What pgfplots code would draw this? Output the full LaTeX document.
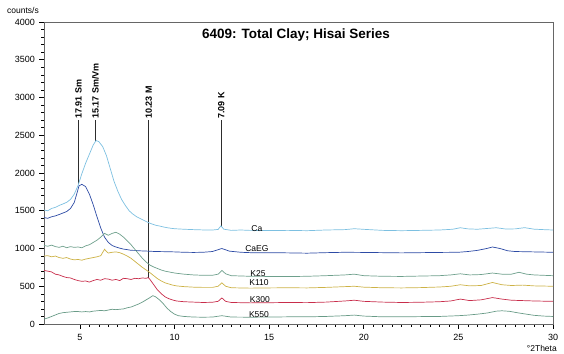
\documentclass[border=0pt]{standalone}
\usepackage{fontspec}
\setmainfont{Liberation Sans}
\usepackage{pgfplots}
\pgfplotsset{compat=1.18}

\definecolor{caCol}{RGB}{125,192,225}
\definecolor{caegCol}{RGB}{45,75,165}
\definecolor{ktwfCol}{RGB}{110,160,140}
\definecolor{konetenCol}{RGB}{205,178,70}
\definecolor{kthreeCol}{RGB}{200,45,75}
\definecolor{kfiveCol}{RGB}{105,155,135}
\definecolor{markCol}{RGB}{45,45,45}

\begin{document}
\begin{tikzpicture}
\begin{axis}[
  at={(0,0)}, anchor=south west,
  scale only axis, width=509pt, height=302pt,
  xmin=3.1, xmax=30, ymin=0, ymax=4000,
  xtick={5,10,...,30}, ytick={0,500,...,4000},
  minor x tick num=9, minor y tick num=4,
  tick align=outside, tick pos=left,
  major tick length=4.5pt, minor tick length=2.5pt,
  tick style={black, line width=0.6pt},
  axis line style={black!60, line width=0.8pt},
  ticklabel style={font=\fontsize{9}{10}\selectfont},
  /pgf/number format/assume math mode=true,
  /pgf/number format/1000 sep={},
  xticklabel style={yshift=-2pt},
  yticklabel style={xshift=-1pt},
  clip=false,
  every axis plot/.append style={line width=0.7pt},
]

% reference lines for the d-spacings
\addplot[markCol, line width=1pt] coordinates {(4.93,1850) (4.93,2700)};
\addplot[markCol, line width=1pt] coordinates {(5.82,2430) (5.82,2700)};
\addplot[markCol, line width=1pt] coordinates {(8.64,612) (8.64,2700)};
\addplot[markCol, line width=1pt] coordinates {(12.47,1290) (12.47,2700)};

\begin{scope}[every node/.style={rotate=90, anchor=west, inner sep=1pt,
    font=\fontsize{9}{10}\selectfont\bfseries}]
  \node at (axis cs:4.93,2700) {17.91 Sm};
  \node at (axis cs:5.82,2700) {15.17 Sm/Vm};
  \node at (axis cs:8.64,2700) {10.23 M};
  \node at (axis cs:12.47,2700) {7.09 K};
\end{scope}

% Ca
\addplot[caCol] coordinates {
(3.1,1510) (3.3,1500) (3.5,1530) (3.7,1545) (3.9,1570) (4.1,1590) (4.3,1612)
(4.5,1650) (4.7,1720) (4.9,1835) (5.1,1990) (5.3,2130) (5.5,2250) (5.7,2370)
(5.85,2430) (6.0,2415) (6.2,2350) (6.4,2230) (6.6,2060) (6.8,1890) (7.0,1760)
(7.2,1650) (7.4,1570) (7.6,1500) (7.8,1455) (8.0,1420) (8.2,1395) (8.4,1370)
(8.6,1345) (8.8,1325) (9.0,1308) (9.2,1298) (9.4,1286) (9.6,1276) (9.8,1268)
(10.0,1262) (10.5,1255) (11.0,1250) (11.5,1246) (12.0,1245) (12.3,1252)
(12.45,1300) (12.6,1256) (13.0,1240) (13.5,1245) (14.0,1240) (15.0,1238)
(16.0,1240) (17.0,1236) (18.0,1245) (19.0,1250) (19.5,1262) (20.0,1254)
(21.0,1240) (22.0,1236) (23.0,1240) (24.0,1245) (24.7,1255) (25.1,1275)
(25.5,1260) (26.0,1255) (26.5,1265) (27.0,1275) (27.5,1258) (28.0,1260)
(28.5,1276) (29.0,1256) (29.5,1250) (30.0,1245)};

% CaEG
\addplot[caegCol] coordinates {
(3.1,1410) (3.3,1400) (3.5,1420) (3.7,1432) (3.9,1450) (4.1,1470) (4.3,1490)
(4.5,1530) (4.7,1610) (4.85,1740) (4.95,1830) (5.1,1850) (5.3,1820) (5.5,1720)
(5.7,1580) (5.9,1420) (6.1,1270) (6.3,1150) (6.5,1080) (6.7,1040) (6.9,1020)
(7.1,1005) (7.3,992) (7.5,985) (7.7,976) (7.9,975) (8.1,970) (8.5,966)
(9.0,960) (9.5,958) (10.0,955) (10.5,950) (11.0,948) (11.5,950) (12.0,960)
(12.5,1000) (12.9,965) (13.5,950) (14.0,945) (15.0,945) (16.0,942) (17.0,938)
(18.0,945) (19.0,950) (20.0,948) (21.0,945) (22.0,942) (23.0,945) (24.0,948)
(25.0,950) (25.5,960) (26.0,975) (26.5,1000) (26.8,1020) (27.2,1000)
(27.6,970) (28.0,960) (29.0,955) (30.0,950)};

% K25
\addplot[ktwfCol] coordinates {
(3.1,1040) (3.3,1030) (3.5,1045) (3.7,1025) (3.9,1015) (4.1,1030) (4.3,1010)
(4.5,1025) (4.7,1015) (4.9,1020) (5.1,1010) (5.3,1035) (5.5,1050) (5.7,1080)
(5.9,1110) (6.1,1150) (6.3,1200) (6.5,1175) (6.7,1200) (6.9,1215) (7.1,1190)
(7.3,1150) (7.5,1100) (7.7,1050) (7.9,990) (8.1,930) (8.3,870) (8.5,820)
(8.7,780) (8.9,755) (9.1,735) (9.3,715) (9.5,700) (9.7,690) (9.9,680)
(10.1,672) (10.5,660) (11.0,650) (11.5,645) (12.0,645) (12.3,660) (12.5,710)
(12.7,665) (13.0,640) (14.0,632) (15.0,630) (16.0,628) (17.0,632) (18.0,640)
(19.0,650) (19.5,660) (20.0,640) (21.0,632) (22.0,630) (23.0,635) (24.0,640)
(24.6,650) (25.1,665) (25.6,650) (26.2,655) (26.8,675) (27.3,660) (27.8,660)
(28.2,685) (28.6,660) (29.0,650) (30.0,640)};

% K110
\addplot[konetenCol] coordinates {
(3.1,900) (3.3,905) (3.5,890) (3.7,900) (3.9,880) (4.1,870) (4.3,880)
(4.5,860) (4.7,850) (4.9,855) (5.1,845) (5.3,860) (5.5,870) (5.7,880)
(5.9,890) (6.1,905) (6.3,990) (6.4,960) (6.5,940) (6.7,950) (6.9,955)
(7.1,945) (7.3,925) (7.5,900) (7.7,870) (7.9,830) (8.1,790) (8.3,750)
(8.5,715) (8.7,680) (8.9,640) (9.1,600) (9.3,570) (9.5,545) (9.7,530)
(9.9,515) (10.1,505) (10.5,495) (11.0,488) (11.5,485) (12.0,485) (12.3,500)
(12.5,545) (12.7,500) (13.0,480) (14.0,475) (15.0,478) (16.0,480) (17.0,478)
(18.0,485) (19.0,495) (19.5,500) (20.0,488) (21.0,480) (22.0,478) (23.0,482)
(24.0,490) (24.6,500) (25.1,520) (25.6,505) (26.2,510) (26.8,550) (27.3,520)
(27.8,510) (28.4,515) (29.0,505) (30.0,500)};

% K300
\addplot[kthreeCol] coordinates {
(3.1,710) (3.3,700) (3.5,690) (3.7,660) (3.9,650) (4.1,630) (4.3,615)
(4.5,610) (4.7,590) (4.9,575) (5.1,565) (5.3,570) (5.5,555) (5.7,575)
(5.9,590) (6.1,580) (6.3,600) (6.5,595) (6.7,580) (6.9,590) (7.1,575)
(7.3,605) (7.5,600) (7.7,590) (7.9,605) (8.1,600) (8.3,610) (8.5,605)
(8.6,615) (8.7,590) (8.9,520) (9.1,450) (9.3,400) (9.5,360) (9.7,335)
(9.9,318) (10.1,305) (10.5,295) (11.0,290) (11.5,285) (12.0,288) (12.3,300)
(12.5,345) (12.7,300) (13.0,285) (14.0,280) (15.0,282) (16.0,285) (17.0,283)
(18.0,290) (19.0,305) (19.5,315) (20.0,300) (21.0,290) (22.0,285) (23.0,288)
(24.0,295) (24.6,305) (25.1,330) (25.6,310) (26.2,320) (26.8,350) (27.3,330)
(27.8,315) (28.4,310) (29.0,305) (30.0,300)};

% K550
\addplot[kfiveCol] coordinates {
(3.1,65) (3.3,80) (3.5,100) (3.7,120) (3.9,140) (4.1,150) (4.3,155)
(4.5,160) (4.7,165) (4.9,165) (5.1,160) (5.3,165) (5.5,160) (5.7,170)
(5.9,175) (6.1,180) (6.3,175) (6.5,185) (6.7,195) (6.9,190) (7.1,195)
(7.3,200) (7.5,215) (7.7,225) (7.9,245) (8.1,265) (8.3,290) (8.5,320)
(8.7,350) (8.85,375) (9.0,360) (9.2,320) (9.4,270) (9.6,210) (9.8,165)
(10.0,130) (10.2,110) (10.5,100) (11.0,92) (11.5,90) (12.0,92) (12.5,110)
(13.0,92) (14.0,90) (15.0,92) (16.0,95) (17.0,95) (18.0,100) (19.0,110)
(19.5,118) (20.0,105) (21.0,95) (22.0,95) (23.0,98) (24.0,100) (25.0,110)
(25.5,118) (26.0,130) (26.5,145) (27.0,170) (27.3,175) (27.7,168) (28.1,150)
(28.6,130) (29.0,115) (29.5,105) (30.0,100)};

% sample labels
\begin{scope}[every node/.style={font=\fontsize{8.5}{10}\selectfont, inner sep=0pt}]
  \node at (axis cs:14.35,1268) {Ca};
  \node at (axis cs:14.35,993) {CaEG};
  \node at (axis cs:14.41,667) {K25};
  \node at (axis cs:14.46,543) {K110};
  \node at (axis cs:14.51,318) {K300};
  \node at (axis cs:14.46,119) {K550};
\end{scope}

% title and axis captions
\node[anchor=base, font=\fontsize{13.5}{15}\selectfont\bfseries]
  at ([yshift=-16pt]rel axis cs:0.495,1) {6409: Total Clay; Hisai Series};
\node[anchor=base west, font=\fontsize{8.5}{10}\selectfont, inner sep=0pt]
  at ([xshift=-37pt, yshift=8pt]rel axis cs:0,1) {counts/s};
\node[anchor=base east, font=\fontsize{8.5}{10}\selectfont, inner sep=0pt]
  at ([xshift=4pt, yshift=-27pt]rel axis cs:1,0) {°2Theta};
\end{axis}
\pgfresetboundingbox
\path (-44pt,-29pt) rectangle (520pt,324pt);
\end{tikzpicture}
\end{document}
